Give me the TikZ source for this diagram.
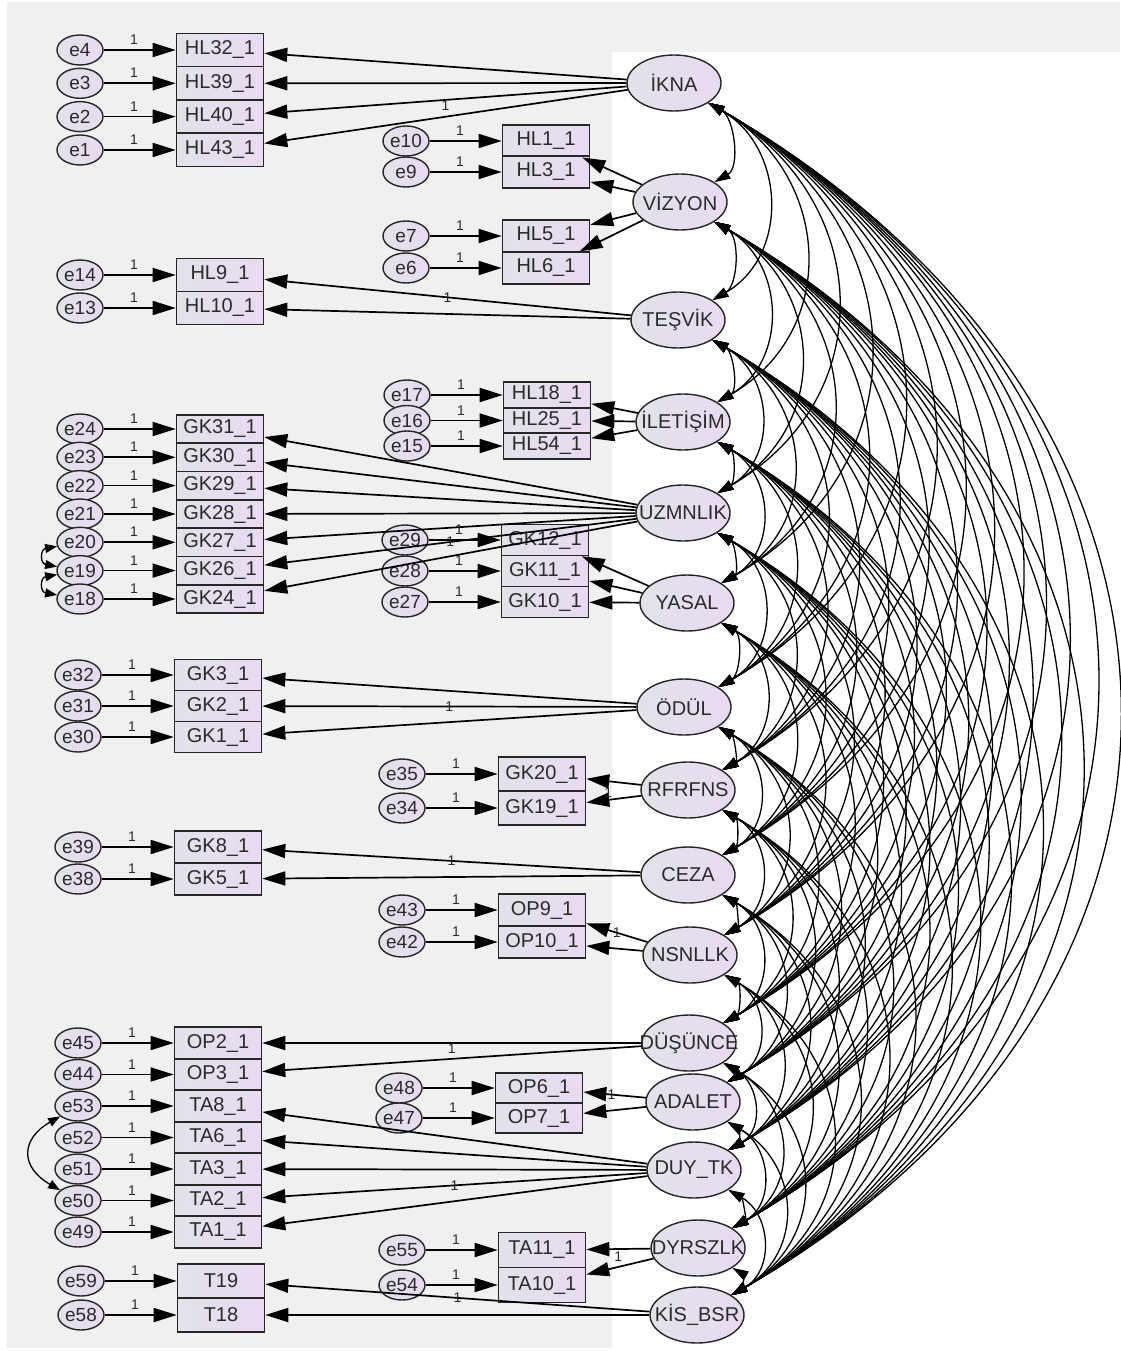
\documentclass[tikz,border=0pt]{standalone}
\usepackage{fontspec}
\setmainfont{Liberation Sans}
\usetikzlibrary{arrows.meta,positioning,shapes.geometric}
\definecolor{bggray}{HTML}{F0F0F0}
\definecolor{lav}{HTML}{E8DAF2}
\definecolor{lgray}{HTML}{E2E2E8}
\definecolor{txt}{HTML}{2A2A2A}
\newcommand{\lvname}[1]{\makebox[0pt]{#1}}
\tikzset{obs/.style={draw=black!85,line width=1.6pt,left color=lgray,right color=lav,
    minimum width=87pt,inner sep=0pt,text=txt,font=\fontsize{20}{20}\selectfont},
  err/.style={ellipse,draw=black!85,line width=1.4pt,left color=lgray,right color=lav,
    minimum width=46pt,minimum height=30pt,inner sep=0pt,text=txt,font=\fontsize{19}{19}\selectfont},
  lat/.style={ellipse,draw=black!85,line width=1.4pt,left color=lgray,right color=lav,
    minimum width=94pt,minimum height=56pt,inner sep=0pt,text=txt,font=\fontsize{20}{20}\selectfont},
  reg/.style={-{Triangle[length=23pt,width=14pt]},line width=1.7pt},
  cov/.style={{Triangle[length=16pt,width=10pt]}-{Triangle[length=16pt,width=10pt]},line width=1.3pt},
  ecov/.style={{Triangle[length=12pt,width=9pt]}-{Triangle[length=12pt,width=9pt]},line width=1.3pt},
  one/.style={font=\fontsize{14}{14}\selectfont,inner sep=0.5pt,text=txt}}

\begin{document}
\begin{tikzpicture}[x=1pt,y=-1pt]
\useasboundingbox (0,0) rectangle (1120,1351);
\fill[white] (0,0) rectangle (1120,1351);
\fill[bggray] (7,2) rectangle (1120,1348);
\fill[white] (612,52) rectangle (1120,1351);

% latent factors
\foreach \f/\t/\x/\y in {IKNA/İKNA/674/83,VIZYON/VİZYON/680/202,TESVIK/TEŞVİK/678/320,
    ILETISIM/İLETİŞİM/683/422,UZMNLIK/UZMNLIK/683/513,YASAL/YASAL/687/603,ODUL/ÖDÜL/684/707,
    RFRFNS/RFRFNS/688/790,CEZA/CEZA/688/875,NSNLLK/NSNLLK/690/955,DUSUNCE/DÜŞÜNCE/689/1043,
    ADALET/ADALET/693/1102,DUYTK/DUY\_TK/694/1170,DYRSZLK/DYRSZLK/698/1248,KISBSR/KİS\_BSR/697/1315}
  \node[lat] (\f) at (\x,\y) {\lvname{\t}};

% observed items
\foreach \n/\y in {HL32/50,HL39/83.3,HL40/116.6,HL43/150}
  \node[obs,minimum height=33.3pt] (\n) at (220,\y) {\n\_1};
\foreach \n/\y in {HL1/141,HL3/172,HL5/236,HL6/268}
  \node[obs,minimum height=31.5pt] (\n) at (546,\y) {\n\_1};
\foreach \n/\y in {HL9/275,HL10/308}
  \node[obs,minimum height=33pt] (\n) at (220,\y) {\n\_1};
\foreach \n/\y in {HL18/395,HL25/420.5,HL54/446}
  \node[obs,minimum height=25.5pt] (\n) at (547,\y) {\n\_1};
\foreach \n/\y in {GK31/429,GK30/457.3,GK29/485.6,GK28/514,GK27/542.3,GK26/570.6,GK24/599}
  \node[obs,minimum height=28.3pt] (\n) at (220,\y) {\n\_1};
\foreach \n/\y in {GK12/540,GK11/571,GK10/602}
  \node[obs,minimum height=31pt] (\n) at (545,\y) {\n\_1};
\foreach \n/\y in {GK3/675,GK2/706,GK1/737}
  \node[obs,minimum height=31pt] (\n) at (218,\y) {\n\_1};
\foreach \n/\y in {GK20/774,GK19/808}
  \node[obs,minimum height=34pt] (\n) at (542,\y) {\n\_1};
\foreach \n/\y in {GK8/847,GK5/879}
  \node[obs,minimum height=32pt] (\n) at (218,\y) {\n\_1};
\foreach \n/\y in {OP9/910,OP10/942}
  \node[obs,minimum height=32pt] (\n) at (542,\y) {\n\_1};
\foreach \n/\y in {OP2/1043,OP3/1074.5,TA8/1106,TA6/1137.5,TA3/1169,TA2/1200.5,TA1/1232}
  \node[obs,minimum height=31.5pt] (\n) at (218,\y) {\n\_1};
\foreach \n/\y in {OP6/1088,OP7/1118}
  \node[obs,minimum height=30pt] (\n) at (539,\y) {\n\_1};
\foreach \n/\y in {TA11/1250,TA10/1285}
  \node[obs,minimum height=35pt] (\n) at (542,\y) {\n\_1};
\foreach \n/\y in {T19/1281,T18/1315}
  \node[obs,minimum height=34pt] (\n) at (221,\y) {\n};

% error terms
\foreach \e/\n in {e4/HL32,e3/HL39,e2/HL40,e1/HL43,e10/HL1,e9/HL3,e7/HL5,e6/HL6,
    e14/HL9,e13/HL10,e17/HL18,e16/HL25,e15/HL54,e24/GK31,e23/GK30,e22/GK29,e21/GK28,
    e20/GK27,e19/GK26,e18/GK24,e29/GK12,e28/GK11,e27/GK10,e32/GK3,e31/GK2,e30/GK1,
    e35/GK20,e34/GK19,e39/GK8,e38/GK5,e43/OP9,e42/OP10,e45/OP2,e44/OP3,e53/TA8,e52/TA6,
    e51/TA3,e50/TA2,e49/TA1,e48/OP6,e47/OP7,e55/TA11,e54/TA10,e59/T19,e58/T18}
{\node[err,left=72pt of \n] (\e) {\e};
 \draw[reg] (\e) -- node[one,pos=.42,above=4pt]{1} (\n);}
\draw[ecov] (e20) to[bend right=80,looseness=2.2] (e19);
\draw[ecov] (e19) to[bend right=80,looseness=2.2] (e18);
\draw[ecov] (e53) to[bend right=60,looseness=1.6] (e50);

% loadings
\foreach \f/\n in {IKNA/HL32,IKNA/HL39,IKNA/HL43,VIZYON/HL1,VIZYON/HL3,VIZYON/HL5,VIZYON/HL6,
    TESVIK/HL10,ILETISIM/HL18,ILETISIM/HL25,ILETISIM/HL54,UZMNLIK/GK31,UZMNLIK/GK30,
    UZMNLIK/GK29,UZMNLIK/GK28,UZMNLIK/GK27,UZMNLIK/GK24,YASAL/GK12,YASAL/GK11,YASAL/GK10,
    ODUL/GK3,ODUL/GK1,RFRFNS/GK20,CEZA/GK5,NSNLLK/OP10,DUSUNCE/OP3,ADALET/OP7,
    DUYTK/TA8,DUYTK/TA6,DUYTK/TA3,DUYTK/TA1,DYRSZLK/TA10,KISBSR/T18}
  \draw[reg] (\f) -- (\n);
\draw[reg] (IKNA) -- node[one,below=0pt]{1} (HL40);
\draw[reg] (TESVIK) -- node[one]{1} (HL9);
\draw[reg] (UZMNLIK) -- node[one]{1} (GK26);
\draw[reg] (ODUL) -- node[one]{1} (GK2);
\draw[reg] (RFRFNS) -- node[one,pos=.6,above=1pt]{1} (GK19);
\draw[reg] (CEZA) -- node[one]{1} (GK8);
\draw[reg] (NSNLLK) -- node[one]{1} (OP9);
\draw[reg] (DUSUNCE) -- node[one,below=0pt]{1} (OP2);
\draw[reg] (ADALET) -- node[one,pos=.55]{1} (OP6);
\draw[reg] (DUYTK) -- node[one]{1} (TA2);
\draw[reg] (DYRSZLK) -- node[one,below=1pt]{1} (TA11);
\draw[reg] (KISBSR) -- node[one]{1} (T19);

% factor covariances
\def\lvlist{IKNA/83,VIZYON/202,TESVIK/320,ILETISIM/422,UZMNLIK/513,YASAL/603,ODUL/707,RFRFNS/790,
  CEZA/875,NSNLLK/955,DUSUNCE/1043,ADALET/1102,DUYTK/1170,DYRSZLK/1248,KISBSR/1315}
\foreach \a/\ya [count=\i] in \lvlist {
  \foreach \b/\yb [count=\j] in \lvlist {
    \ifnum\j>\i
      \pgfmathsetmacro\L{1.5377*(0.34-0.12/(\j-\i))*(\yb-\ya-30)}
      \draw[cov] (\a.-30) .. controls +(-30:\L pt) and +(30:\L pt) .. (\b.30);
    \fi}}
\end{tikzpicture}
\end{document}
